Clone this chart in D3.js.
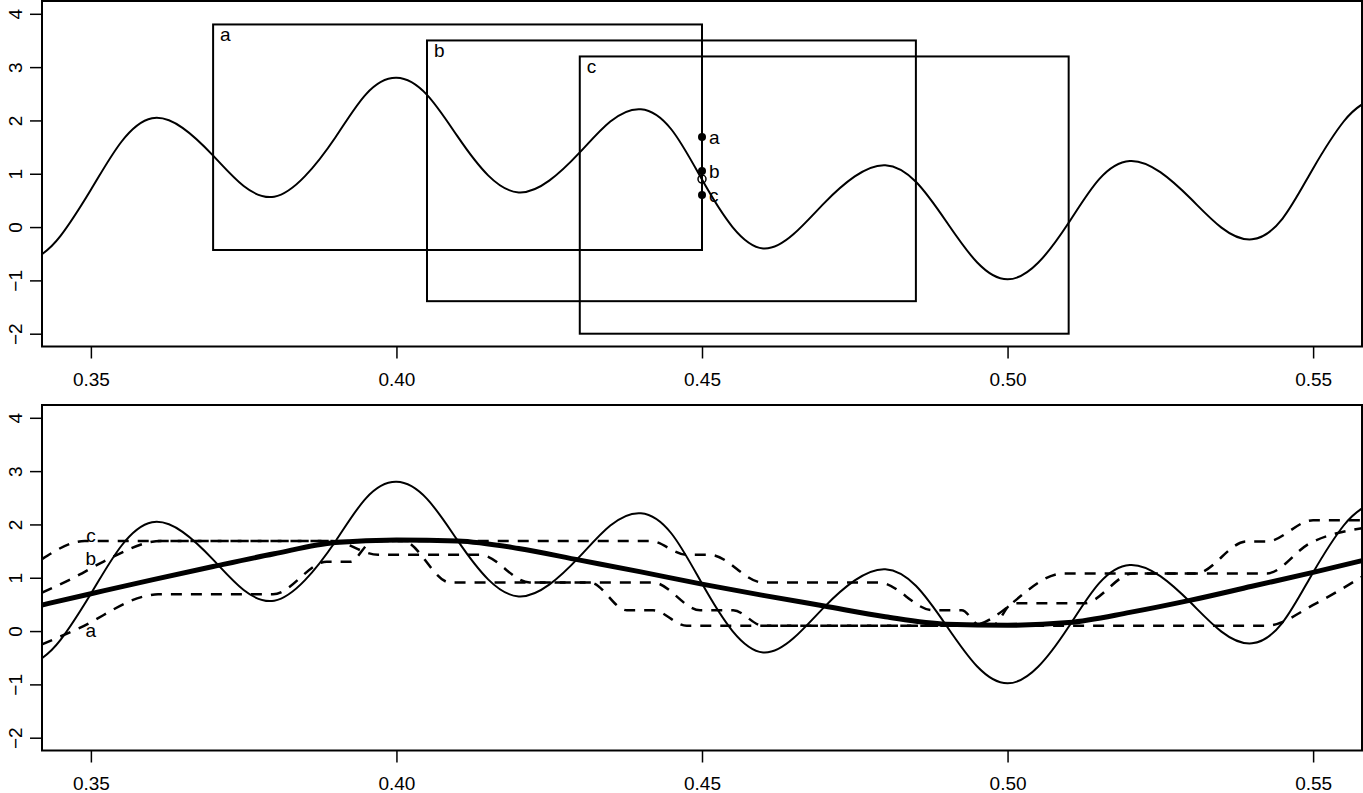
<!DOCTYPE html>
<html>
<head>
<meta charset="utf-8">
<script src="https://cdn.jsdelivr.net/npm/d3@7"></script>
<style>
  body { margin: 0; background: #fff; }
  svg { display: block; }
  text { font-family: "Liberation Sans", Arial, Helvetica, sans-serif; fill: #000; }
</style>
</head>
<body>
<svg id="chart" width="1363" height="793"></svg>
<script>
// wiggly curve
const waveX = [0.342, 0.345, 0.350, 0.355, 0.360, 0.365, 0.370, 0.375, 0.380, 0.385,
  0.390, 0.395, 0.400, 0.405, 0.410, 0.415, 0.420, 0.425, 0.430, 0.435,
  0.440, 0.445, 0.450, 0.455, 0.460, 0.465, 0.470, 0.475, 0.480, 0.485,
  0.490, 0.495, 0.500, 0.505, 0.510, 0.515, 0.520, 0.525, 0.530, 0.535,
  0.540, 0.545, 0.550, 0.555, 0.558];
const waveY = [-0.51, -0.17, 0.70, 1.60, 2.04, 1.86, 1.34, 0.77, 0.57, 0.95,
  1.68, 2.49, 2.80, 2.48, 1.70, 0.97, 0.65, 0.87, 1.40, 1.98,
  2.21, 1.83, 0.89, 0.00, -0.40, -0.13, 0.45, 0.95, 1.16, 0.85,
  0.10, -0.66, -0.98, -0.67, 0.08, 0.90, 1.24, 1.03, 0.53, -0.01,
  -0.23, 0.16, 1.10, 1.98, 2.30];

// thick smooth line
const smoothX = [0.342, 0.35, 0.36, 0.37, 0.38, 0.39, 0.40, 0.41, 0.42, 0.43, 0.44,
  0.45, 0.46, 0.47, 0.48, 0.49, 0.50, 0.51, 0.52, 0.53, 0.54, 0.55, 0.558];
const smoothY = [0.49, 0.70, 0.96, 1.21, 1.45, 1.66, 1.71, 1.69, 1.55, 1.33, 1.11,
  0.88, 0.67, 0.47, 0.27, 0.13, 0.11, 0.16, 0.35, 0.58, 0.84, 1.10, 1.32];

// dashed step curves
const aX = [0.342, 0.348, 0.3591, 0.361, 0.3798, 0.3886, 0.3924, 0.3962, 0.401, 0.4088,
  0.4317, 0.4377, 0.442, 0.4475, 0.4938, 0.5091, 0.5308, 0.5391, 0.5424, 0.550, 0.558];
const aY = [-0.25, 0.05, 0.66, 0.69, 0.69, 1.30, 1.30, 1.69, 1.69, 0.91,
  0.91, 0.39, 0.39, 0.10, 0.10, 1.08, 1.08, 1.68, 1.68, 2.08, 2.08];
const bX = [0.342, 0.3475, 0.352, 0.3615, 0.3895, 0.397, 0.4137, 0.4218, 0.442, 0.4497,
  0.4551, 0.460, 0.4975, 0.5009, 0.5125, 0.5205, 0.5424, 0.5495, 0.558];
const bY = [0.72, 1.02, 1.30, 1.69, 1.69, 1.43, 1.43, 0.91, 0.91, 0.39,
  0.39, 0.10, 0.10, 0.52, 0.52, 1.08, 1.08, 1.65, 1.93];
const cX = [0.342, 0.349, 0.4415, 0.4475, 0.4513, 0.460, 0.479, 0.4878, 0.4925, 0.4955,
  0.5423, 0.5505, 0.558];
const cY = [1.35, 1.69, 1.69, 1.43, 1.43, 0.91, 0.91, 0.39, 0.39, 0.10,
  0.10, 0.52, 1.02];

// windows in the top panel
const boxNames = ["a", "b", "c"];
const boxX0 = [0.37, 0.405, 0.43];
const boxX1 = [0.45, 0.485, 0.51];
const boxY0 = [-0.43, -1.39, -2.0];
const boxY1 = [3.8, 3.5, 3.2];

// points at x = 0.45
const pointNames = ["a", "b", "c"];
const pointY = [1.69, 1.05, 0.60];
const pointX = 0.45;
const openPointY = 0.90;

// labels on the dashed lines
const lineLabelY = [0.02, 1.36, 1.80];

const xTicks = [0.35, 0.40, 0.45, 0.50, 0.55];
const yTicks = [-2, -1, 0, 1, 2, 3, 4];

const svg = d3.select('#chart');
const x = d3.scaleLinear().domain([0.342, 0.558]).range([42, 1362]);

function makePanel(y0, y1) {
    const y = d3.scaleLinear().domain([-2.24, 4.24]).range([y1, y0]);
    const g = svg.append('g');

    const xAxis = g.append('g')
        .attr('transform', `translate(0,${y1})`)
        .call(d3.axisBottom(x).tickValues(xTicks).tickFormat(d3.format('.2f')).tickSize(12).tickPadding(14));
    xAxis.select('.domain').remove();
    xAxis.selectAll('line').attr('stroke-width', 1.5);
    xAxis.selectAll('text').attr('font-size', 19).attr('font-family', null);

    const yAxis = g.append('g')
        .attr('transform', 'translate(42,0)')
        .call(d3.axisLeft(y).tickValues(yTicks).tickFormat(d3.format('d')).tickSize(12));
    yAxis.select('.domain').remove();
    yAxis.selectAll('line').attr('stroke-width', 1.5);
    yAxis.selectAll('text')
        .attr('font-size', 19).attr('font-family', null)
        .attr('x', null).attr('dy', null)
        .attr('text-anchor', 'middle')
        .attr('transform', 'translate(-20,0) rotate(-90)');

    const clipId = 'clip' + Math.round(y0);
    g.append('clipPath').attr('id', clipId)
        .append('rect').attr('x', 42).attr('y', y0).attr('width', 1320).attr('height', y1 - y0);
    const plot = g.append('g').attr('clip-path', `url(#${clipId})`);

    g.append('rect')
        .attr('x', 42).attr('y', y0).attr('width', 1320).attr('height', y1 - y0)
        .attr('fill', 'none').attr('stroke', '#000').attr('stroke-width', 2);
    return { y, plot, g };
}

function series(xs, ys) {
    return xs.map((d, i) => [d, ys[i]]);
}

// top panel
const upper = makePanel(1, 346.5);
const waveLineTop = d3.line().x(d => x(d[0])).y(d => upper.y(d[1])).curve(d3.curveNatural);
upper.plot.append('path')
    .datum(series(waveX, waveY))
    .attr('d', waveLineTop)
    .attr('fill', 'none').attr('stroke', '#000').attr('stroke-width', 2);

upper.plot.selectAll('.win')
    .data(boxNames)
    .enter()
    .append('rect')
    .classed('win', true)
    .attr('x', (d, i) => x(boxX0[i]))
    .attr('y', (d, i) => upper.y(boxY1[i]))
    .attr('width', (d, i) => x(boxX1[i]) - x(boxX0[i]))
    .attr('height', (d, i) => upper.y(boxY0[i]) - upper.y(boxY1[i]))
    .attr('fill', 'none').attr('stroke', '#000').attr('stroke-width', 2);

upper.plot.selectAll('.winlabel')
    .data(boxNames)
    .enter()
    .append('text')
    .classed('winlabel', true)
    .attr('x', (d, i) => x(boxX0[i]) + 7)
    .attr('y', (d, i) => upper.y(boxY1[i]) + 17)
    .attr('font-size', 19)
    .text(d => d);

upper.plot.append('circle')
    .attr('cx', x(pointX)).attr('cy', upper.y(openPointY)).attr('r', 4)
    .attr('fill', 'none').attr('stroke', '#000').attr('stroke-width', 1.5);

upper.plot.selectAll('.pt')
    .data(pointNames)
    .enter()
    .append('circle')
    .classed('pt', true)
    .attr('cx', x(pointX))
    .attr('cy', (d, i) => upper.y(pointY[i]))
    .attr('r', 4)
    .attr('fill', '#000');

upper.plot.selectAll('.ptlabel')
    .data(pointNames)
    .enter()
    .append('text')
    .classed('ptlabel', true)
    .attr('x', x(pointX) + 7)
    .attr('y', (d, i) => upper.y(pointY[i]))
    .attr('dy', '0.35em')
    .attr('font-size', 19)
    .text(d => d);

// bottom panel
const lower = makePanel(405, 750.5);
const waveLineBot = d3.line().x(d => x(d[0])).y(d => lower.y(d[1])).curve(d3.curveNatural);
lower.plot.append('path')
    .datum(series(waveX, waveY))
    .attr('d', waveLineBot)
    .attr('fill', 'none').attr('stroke', '#000').attr('stroke-width', 2);

const stepLine = d3.line().x(d => x(d[0])).y(d => lower.y(d[1])).curve(d3.curveMonotoneX);
[series(aX, aY), series(bX, bY), series(cX, cY)].forEach(s => {
    lower.plot.append('path')
        .datum(s)
        .attr('d', stepLine)
        .attr('fill', 'none').attr('stroke', '#000').attr('stroke-width', 2.5)
        .attr('stroke-dasharray', '11,9');
});

lower.plot.append('path')
    .datum(series(smoothX, smoothY))
    .attr('d', d3.line().x(d => x(d[0])).y(d => lower.y(d[1])).curve(d3.curveMonotoneX))
    .attr('fill', 'none').attr('stroke', '#000').attr('stroke-width', 5);

lower.plot.selectAll('.linelabel')
    .data(boxNames)
    .enter()
    .append('text')
    .classed('linelabel', true)
    .attr('x', x(0.35))
    .attr('y', (d, i) => lower.y(lineLabelY[i]))
    .attr('dy', '0.35em')
    .attr('text-anchor', 'middle')
    .attr('font-size', 19)
    .text(d => d);
</script>
</body>
</html>
